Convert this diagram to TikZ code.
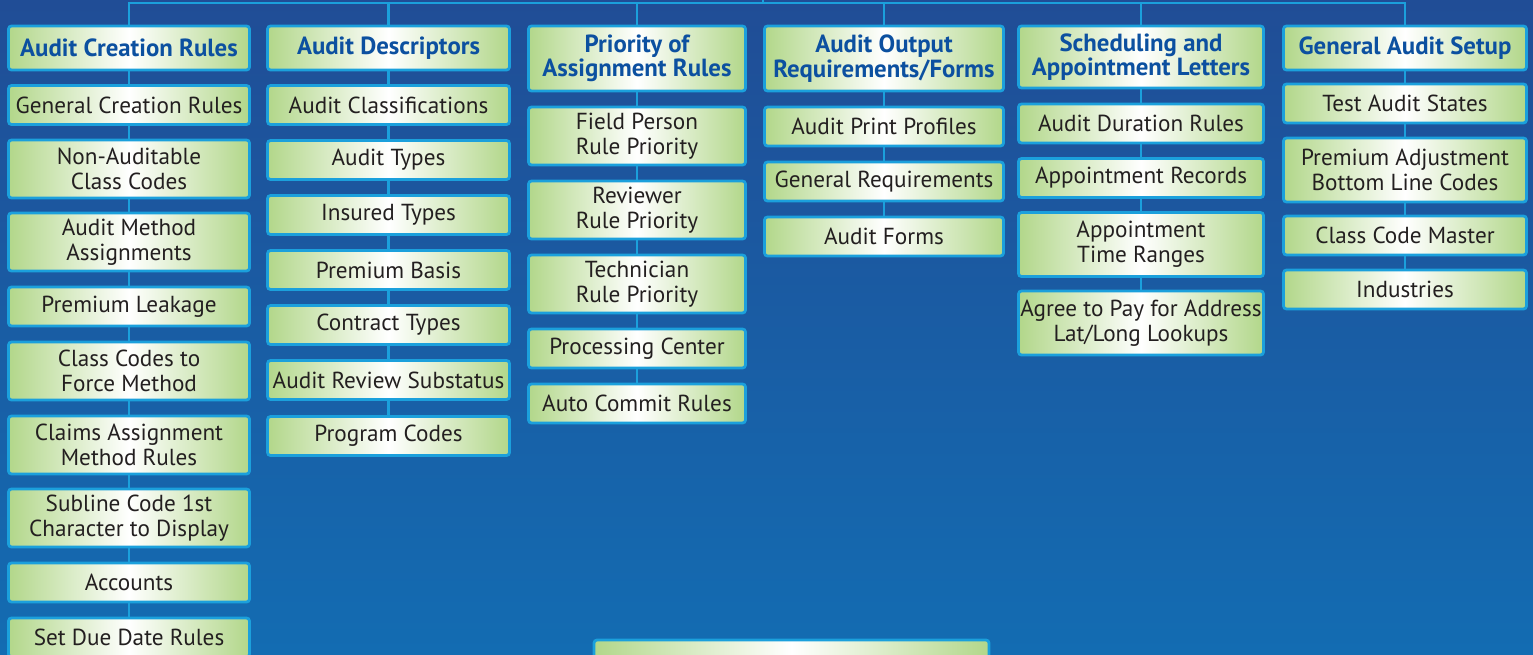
\documentclass[tikz,border=0pt]{standalone}
\usepackage{fontspec}
\setmainfont{PT Sans}
\usetikzlibrary{positioning}
\definecolor{bgtop}{RGB}{32,77,150}
\definecolor{bgbottom}{RGB}{19,108,178}
\definecolor{linkblue}{RGB}{27,160,220}
\definecolor{leafgreen}{RGB}{178,215,138}
\definecolor{headblue}{RGB}{12,80,160}
\definecolor{textdark}{RGB}{35,31,32}
\begin{document}
\begin{tikzpicture}
	[x=0.5pt,y=-0.5pt,
	box/.style={draw=linkblue,line width=1.4pt,rounded corners=1.5pt,inner sep=0pt,align=center,
		left color=leafgreen,right color=leafgreen,middle color=white},
	head node/.style={box,text=headblue,font=\fontsize{12.4}{12.3}\selectfont\bfseries},
	leaf node/.style={box,text=textdark,font=\fontsize{11.6}{12.6}\selectfont},
	one/.style={minimum height=19.5pt},
	two/.style={minimum height=29pt},
	tall/.style={minimum height=32pt},
	col1/.style={minimum width=120.5pt},
	col2/.style={minimum width=121pt},
	col3/.style={minimum width=108.5pt},
	col4/.style={minimum width=119.5pt},
	col5/.style={minimum width=122.5pt},
	col6/.style={minimum width=121.5pt},
	link/.style={draw=linkblue,line width=1.2pt}
	]
	
	\useasboundingbox (0,0) rectangle (1533,654);
	\clip (0,0) rectangle (1533,654);
	\fill [top color=bgtop,bottom color=bgbottom] (0,0) rectangle (1533,654);
	
	\node [head node,col1,minimum height=22pt] (10) at (129,48) {Audit Creation Rules};
	\node [leaf node,col1,one] (11) at (129,105) {General Creation Rules};
	\node [leaf node,col1,two] (12) at (129,169) {Non-Auditable\\Class Codes};
	\node [leaf node,col1,two] (13) at (129,242) {Audit Method\\Assignments};
	\node [leaf node,col1,one] (14) at (129,306.5) {Premium Leakage};
	\node [leaf node,col1,two] (15) at (129,371) {Class Codes to\\Force Method};
	\node [leaf node,col1,two] (16) at (129,445) {Claims Assignment\\Method Rules};
	\node [leaf node,col1,two] (17) at (129,518) {Subline Code 1st\\Character to Display};
	\node [leaf node,col1,one] (18) at (129,582.5) {Accounts};
	\node [leaf node,col1,one] (19) at (129,637.5) {Set Due Date Rules};
	
	\node [head node,col2,minimum height=22pt] (20) at (388.5,48) {Audit Descriptors};
	\node [leaf node,col2,one] (21) at (388.5,105) {Audit Classifications};
	\node [leaf node,col2,one] (22) at (388.5,160) {Audit Types};
	\node [leaf node,col2,one] (23) at (388.5,215) {Insured Types};
	\node [leaf node,col2,one] (24) at (388.5,270) {Premium Basis};
	\node [leaf node,col2,one] (25) at (388.5,325) {Contract Types};
	\node [leaf node,col2,one] (26) at (388.5,380) {Audit Review Substatus};
	\node [leaf node,col2,one] (27) at (388.5,436) {Program Codes};
	
	\node [head node,col3,minimum height=32.5pt] (30) at (637,58.5) {Priority of\\Assignment Rules};
	\node [leaf node,col3,two] (31) at (637,136) {Field Person\\Rule Priority};
	\node [leaf node,col3,two] (32) at (637,210) {Reviewer\\Rule Priority};
	\node [leaf node,col3,two] (33) at (637,284) {Technician\\Rule Priority};
	\node [leaf node,col3,one] (34) at (637,348.5) {Processing Center};
	\node [leaf node,col3,one] (35) at (637,403.5) {Auto Commit Rules};
	
	\node [head node,col4,minimum height=32.5pt] (40) at (884,58.5) {Audit Output\\Requirements/Forms};
	\node [leaf node,col4,one] (41) at (884,126.5) {Audit Print Profiles};
	\node [leaf node,col4,one] (42) at (884,181.5) {General Requirements};
	\node [leaf node,col4,one] (43) at (884,236.5) {Audit Forms};
	
	\node [head node,col5,minimum height=31pt] (50) at (1141,57) {Scheduling and\\Appointment Letters};
	\node [leaf node,col5,one] (51) at (1141,123.5) {Audit Duration Rules};
	\node [leaf node,col5,one] (52) at (1141,178) {Appointment Records};
	\node [leaf node,col5,tall] (53) at (1141,244.5) {Appointment\\Time Ranges};
	\node [leaf node,col5,tall] (54) at (1141,323) {Agree to Pay for Address\\Lat/Long Lookups};
	
	\node [head node,col6,minimum height=22pt] (60) at (1405,48) {General Audit Setup};
	\node [leaf node,col6,one] (61) at (1405,103.5) {Test Audit States};
	\node [leaf node,col6,tall] (62) at (1405,170) {Premium Adjustment\\Bottom Line Codes};
	\node [leaf node,col6,one] (63) at (1405,235.5) {Class Code Master};
	\node [leaf node,col6,one] (64) at (1405,289.5) {Industries};
	
	\node [head node,minimum width=197.5pt,minimum height=24pt] (70) at (791.5,664) {};
	
	\coordinate (0) at (763,3);
	\coordinate (1) at (763,0);
	
	\path[link]
	(10) edge (11) (11) edge (12) (12) edge (13) (13) edge (14) (14) edge (15)
	(15) edge (16) (16) edge (17) (17) edge (18) (18) edge (19)
	(20) edge (21) (21) edge (22) (22) edge (23) (23) edge (24) (24) edge (25)
	(25) edge (26) (26) edge (27)
	(30) edge (31) (31) edge (32) (32) edge (33) (33) edge (34) (34) edge (35)
	(40) edge (41) (41) edge (42) (42) edge (43)
	(50) edge (51) (51) edge (52) (52) edge (53) (53) edge (54)
	(60) edge (61) (61) edge (62) (62) edge (63) (63) edge (64)
	(0) edge (1)
	;
	
	\foreach \h in {10,20,30,40,50,60}
	\draw[link] (\h) |- (0);
	
\end{tikzpicture}
\end{document}
